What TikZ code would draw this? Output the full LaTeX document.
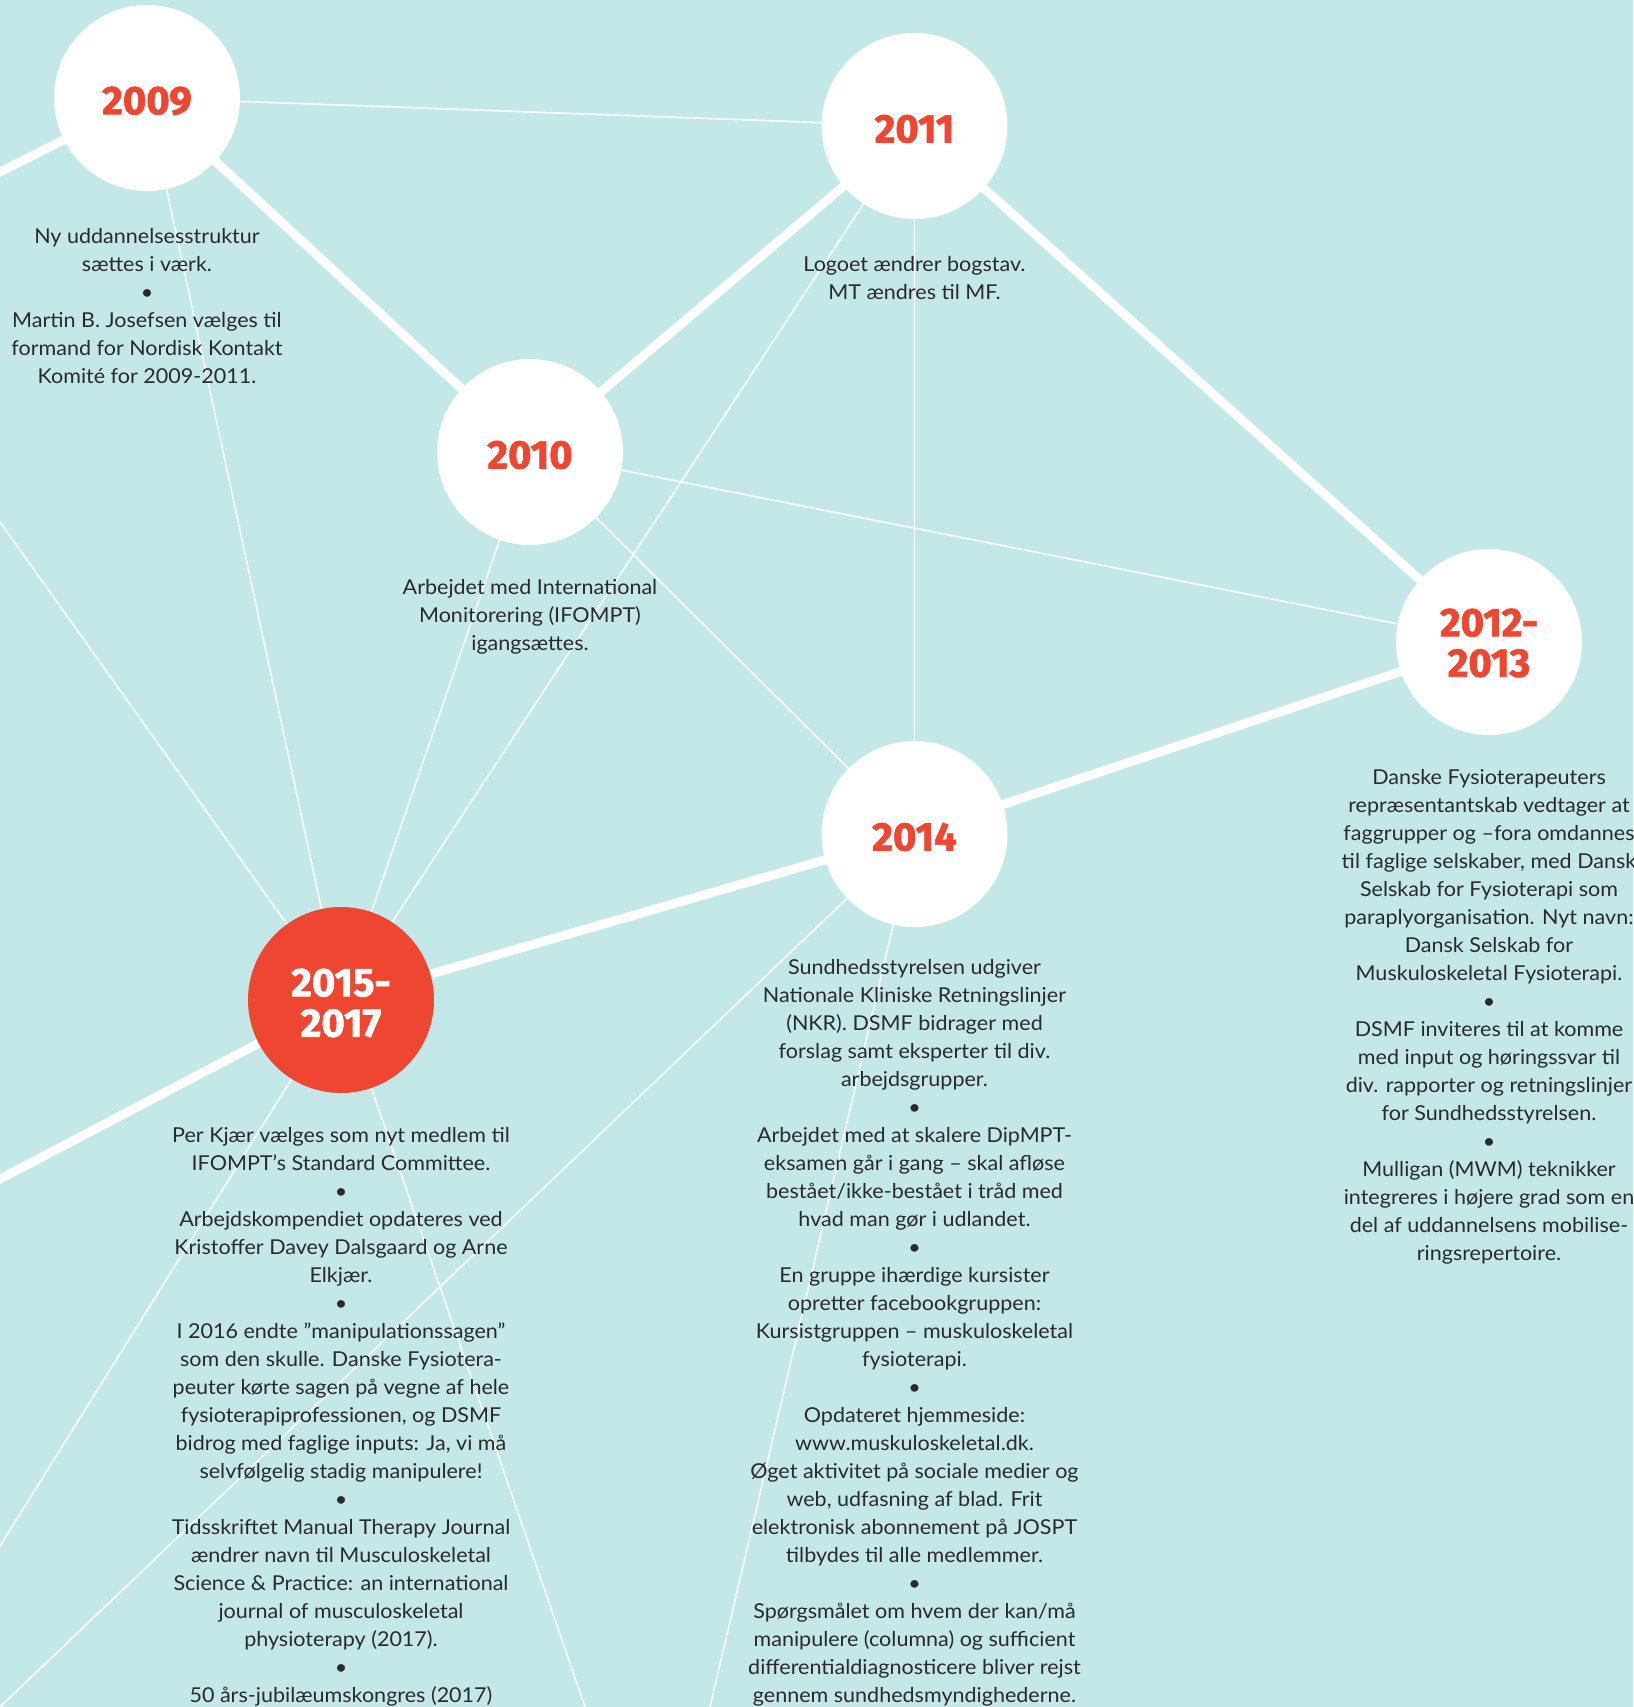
\documentclass[tikz,border=0pt]{standalone}
\usepackage{fontspec}
\setmainfont{Lato}
\newfontfamily\yearfont[BoldFeatures={FakeBold=1.6}]{Fira Sans}
\newfontfamily\bodyfont[FakeStretch=1.05]{Lato}
\definecolor{bgteal}{HTML}{C4E8E8}
\definecolor{yred}{HTML}{EF4631}
\definecolor{txt}{HTML}{2A2A2A}
\pgfdeclarelayer{back}
\pgfdeclarelayer{lines}
\pgfsetlayers{back,lines,main}
\begin{document}
\begin{tikzpicture}[x=1pt,y=-1pt,
  yearc/.style={circle, fill=white, minimum size=186pt, inner sep=0pt},
  yearred/.style={yearc, fill=yred},
  yeartxt/.style={inner sep=0pt, font=\yearfont\bfseries\fontsize{40}{40.5}\selectfont, text=yred, align=center},
  yeartxtw/.style={yeartxt, text=white},
  thickl/.style={draw=white, line width=9pt},
  thinl/.style={draw=white, line width=1.6pt},
  body/.style={font=\bodyfont\fontsize{20.5}{28}\selectfont, text=txt, align=center, inner sep=0pt}]
\useasboundingbox (0,0) rectangle (1633,1707);
\begin{pgfonlayer}{back}
\fill[bgteal] (0,0) rectangle (1633,1707);
\end{pgfonlayer}

% circles
\node[yearc] (n2009) at (147,98) {};
\node[yearc] (n2011) at (914.5,126) {};
\node[yearc] (n2010) at (530,452) {};
\node[yearc] (n2012) at (1489,642) {};
\node[yearc] (n2014) at (914.5,834) {};
\node[yearred] (n2015) at (341,1000) {};

% year labels
\node[yeartxt] (l2009) at ([yshift=-3pt]n2009.center) {2009};
\node[yeartxt] (l2011) at ([yshift=-3pt]n2011.center) {2011};
\node[yeartxt] (l2010) at ([yshift=-3pt]n2010.center) {2010};
\node[yeartxt] (l2012) at ([yshift=-1pt]n2012.center) {2012-\\2013};
\node[yeartxt] (l2014) at ([yshift=-3pt]n2014.center) {2014};
\node[yeartxtw] (l2015) at ([yshift=-3pt]n2015.center) {2015-\\2017};

% free ends
\coordinate (e1) at (-20,182);
\coordinate (e2) at (-20,494);
\coordinate (e3) at (-20,1189.5);
\coordinate (e4) at (-20,1578);
\coordinate (e5) at (-20,1726);
\coordinate (e6) at (593,1730);
\coordinate (e7) at (704.6,1730);

\begin{pgfonlayer}{lines}
\draw[thickl] (e1) -- (n2009.center);
\draw[thickl] (n2009.center) -- (n2010.center);
\draw[thickl] (n2010.center) -- (n2011.center);
\draw[thickl] (n2011.center) -- (n2012.center);
\draw[thickl] (n2012.center) -- (n2014.center);
\draw[thickl] (n2014.center) -- (n2015.center);
\draw[thickl] (n2015.center) -- (e3);
\draw[thinl] (n2009.center) -- (n2011.center);
\draw[thinl] (n2009.center) -- (n2015.center);
\draw[thinl] (n2010.center) -- (n2015.center);
\draw[thinl] (n2011.center) -- (n2015.center);
\draw[thinl] (n2011.center) -- (n2014.center);
\draw[thinl] (n2010.center) -- (n2012.center);
\draw[thinl] (n2010.center) -- (n2014.center);
\draw[thinl] (e2) -- (n2015.center);
\draw[thinl] (e4) -- (n2015.center);
\draw[thinl] (e6) -- (n2015.center);
\draw[thinl] (e5) -- (n2014.center);
\draw[thinl] (e7) -- (n2014.center);
\end{pgfonlayer}

% texts
\node[body] (t2009) at (147,306) {Ny uddannelsesstruktur\\sættes i værk.\\•\\Martin B. Josefsen vælges til\\formand for Nordisk Kontakt\\Komité for 2009-2011.};
\node[body] (t2011) at (914.5,278.5) {Logoet ændrer bogstav.\\MT ændres til MF.};
\node[body] (t2010) at (530,617) {Arbejdet med International\\Monitorering (IFOMPT)\\igangsættes.};
\node[body] (t2012) at (1489,1017) {Danske Fysioterapeuters\\repræsentantskab vedtager at\\faggrupper og –fora omdannes\\til faglige selskaber, med Dansk\\Selskab for Fysioterapi som\\paraplyorganisation. Nyt navn:\\Dansk Selskab for\\Muskuloskeletal Fysioterapi.\\•\\DSMF inviteres til at komme\\med input og høringssvar til\\div. rapporter og retningslinjer\\for Sundhedsstyrelsen.\\•\\Mulligan (MWM) teknikker\\integreres i højere grad som en\\del af uddannelsens mobilise-\\ringsrepertoire.};
\node[body] (t2014) at (914.5,1333) {Sundhedsstyrelsen udgiver\\Nationale Kliniske Retningslinjer\\(NKR). DSMF bidrager med\\forslag samt eksperter til div.\\arbejdsgrupper.\\•\\Arbejdet med at skalere DipMPT-\\eksamen går i gang – skal afløse\\bestået/ikke-bestået i tråd med\\hvad man gør i udlandet.\\•\\En gruppe ihærdige kursister\\opretter facebookgruppen:\\Kursistgruppen – muskuloskeletal\\fysioterapi.\\•\\Opdateret hjemmeside:\\www.muskuloskeletal.dk.\\Øget aktivitet på sociale medier og\\web, udfasning af blad. Frit\\elektronisk abonnement på JOSPT\\tilbydes til alle medlemmer.\\•\\Spørgsmålet om hvem der kan/må\\manipulere (columna) og sufficient\\differentialdiagnosticere bliver rejst\\gennem sundhedsmyndighederne.};
\node[body] (t2015) at (341,1417) {Per Kjær vælges som nyt medlem til\\IFOMPT’s Standard Committee.\\•\\Arbejdskompendiet opdateres ved\\Kristoffer Davey Dalsgaard og Arne\\Elkjær.\\•\\I 2016 endte ”manipulationssagen”\\som den skulle. Danske Fysiotera-\\peuter kørte sagen på vegne af hele\\fysioterapiprofessionen, og DSMF\\bidrog med faglige inputs: Ja, vi må\\selvfølgelig stadig manipulere!\\•\\Tidsskriftet Manual Therapy Journal\\ændrer navn til Musculoskeletal\\Science \& Practice: an international\\journal of musculoskeletal\\physioterapy (2017).\\•\\50 års-jubilæumskongres (2017)};
\end{tikzpicture}
\end{document}
